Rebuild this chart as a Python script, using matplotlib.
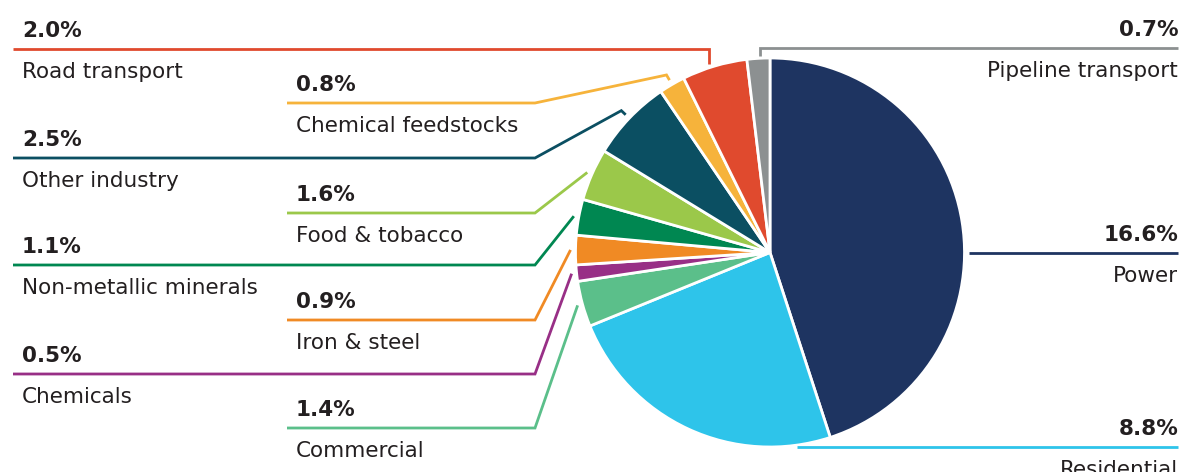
import numpy as np
import matplotlib
matplotlib.use("Agg")
import matplotlib.pyplot as plt

# data, clockwise from 12 o'clock
sectors = ["Power", "Residential", "Commercial", "Chemicals", "Iron & steel",
           "Non-metallic minerals", "Food & tobacco", "Other industry",
           "Chemical feedstocks", "Road transport", "Pipeline transport"]
shares = [16.6, 8.8, 1.4, 0.5, 0.9, 1.1, 1.6, 2.5, 0.8, 2.0, 0.7]
colors = ["#1e3461", "#2ec4ea", "#5bbf8a", "#982f86", "#f08a24", "#008751",
          "#9bc84a", "#0b4f62", "#f6b33b", "#e04a2e", "#8c9091"]

# label layout: (kind, line y in px from top)
layout = {
    "Power": ("right", 253),
    "Residential": ("bottom", 447),
    "Commercial": ("inner", 428),
    "Chemicals": ("outer", 374),
    "Iron & steel": ("inner", 320),
    "Non-metallic minerals": ("outer", 265),
    "Food & tobacco": ("inner", 213),
    "Other industry": ("outer_tick", 158),
    "Chemical feedstocks": ("inner_tick", 103),
    "Road transport": ("top_left", 49),
    "Pipeline transport": ("top_right", 48),
}

W, H = 1182, 472
cx, cy, R = 770, 252.5, 194.5
txt = "#231f20"
font = "DejaVu Sans"
fs = 15.5


def Y(y):
    return H - y


fig = plt.figure(figsize=(W / 100, H / 100), dpi=100)
ax = fig.add_axes([0, 0, 1, 1])
wedges, _ = ax.pie(shares, colors=colors, startangle=90, counterclock=False,
                   center=(cx, Y(cy)), radius=R,
                   wedgeprops=dict(edgecolor="white", linewidth=2))
ax.set_xlim(0, W)
ax.set_ylim(0, H)
ax.set_aspect("equal")
ax.axis("off")

elbow_x = 535
for w, name, val, col in zip(wedges, sectors, shares, colors):
    kind, ly = layout[name]
    a = np.deg2rad((w.theta1 + w.theta2) / 2)
    ux, uy = np.cos(a), np.sin(a)
    px, py = cx + (R + 5) * ux, Y(cy) + (R + 5) * uy
    if kind == "right":
        xs, ys = [cx + R + 4, W - 4], [Y(ly), Y(ly)]
    elif kind == "bottom":
        xs, ys = [cx + 27, W - 4], [Y(ly), Y(ly)]
    elif kind == "top_left":
        xs, ys = [px - 4, px - 4, 13], [Y(64), Y(ly), Y(ly)]
    elif kind == "top_right":
        xs, ys = [px + 2, px + 2, W - 4], [Y(56), Y(ly), Y(ly)]
    else:
        xs, ys = [px], [py]
        if kind.endswith("tick"):
            xs.append(cx + (R + 11) * ux)
            ys.append(Y(cy) + (R + 11) * uy)
        end = 13 if kind.startswith("outer") else 287
        xs += [elbow_x, end]
        ys += [Y(ly), Y(ly)]
    ax.plot(xs, ys, color=col, lw=2, solid_joinstyle="miter",
            solid_capstyle="butt")

    if kind in ("right", "bottom", "top_right"):
        tx, ha = W - 4, "right"
    elif kind.startswith("outer") or kind == "top_left":
        tx, ha = 22, "left"
    else:
        tx, ha = 296, "left"
    ax.text(tx, Y(ly - 12), f"{val:.1f}%", ha=ha, va="baseline",
            fontsize=fs, fontweight="bold", color=txt, family=font)
    ax.text(tx, Y(ly + 29), name, ha=ha, va="baseline",
            fontsize=fs, color=txt, family=font)

fig.savefig("out.png", dpi=100, facecolor="white")
